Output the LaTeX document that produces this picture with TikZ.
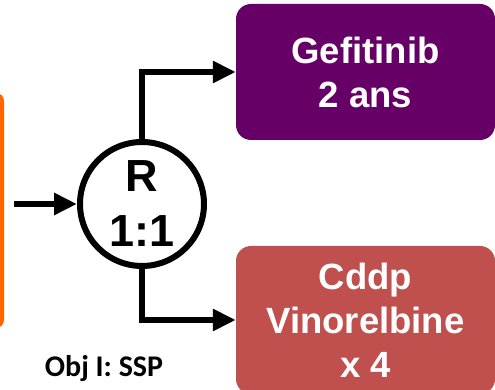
\documentclass[tikz,border=0pt]{standalone}
\usepackage{fontspec}
\setmainfont{Liberation Sans}
\newfontfamily\carlito{Carlito}
\usetikzlibrary{arrows.meta}
\definecolor{purp}{RGB}{102,0,102}
\definecolor{redbox}{RGB}{192,80,77}
\definecolor{orng}{RGB}{255,102,0}
\begin{document}
\begin{tikzpicture}[x=1pt,y=1pt,
  armbox/.style={rectangle, rounded corners=15pt, inner sep=0pt, text=white,
    font=\bfseries\fontsize{36.5}{44}\selectfont, align=center},
  conn/.style={line width=6.5pt, -{Triangle[length=23pt,width=21pt]}},
]
\useasboundingbox (0,0) rectangle (495,390);
\node[rectangle, rounded corners=8pt, fill=orng, minimum width=40pt, minimum height=235pt, inner sep=0pt] (pop) at (-16,179.5) {};
\node[circle, draw, line width=6pt, minimum size=124pt, inner sep=0pt, align=center,
  font=\bfseries\fontsize{45}{57}\selectfont] (rand) at (142,186) {R\\[-2pt]1:1};
\node[armbox, fill=purp, minimum width=259pt, minimum height=136pt] (gef) at (365.5,318) {Gefitinib\\2 ans};
\node[armbox, fill=redbox, minimum width=259pt, minimum height=148pt] (cddp) at (365.5,70) {Cddp\\Vinorelbine\\x 4};
\node[font=\carlito\bfseries\fontsize{30}{34}\selectfont, inner sep=0pt] (obj) at (104,21) {Obj I: SSP};
\draw[conn, shorten <=10pt] (pop.east |- rand.west) -- (rand.west);
\draw[conn] (rand.north) |- (gef.west);
\draw[conn] (rand.south) |- (cddp.west);
\end{tikzpicture}
\end{document}
